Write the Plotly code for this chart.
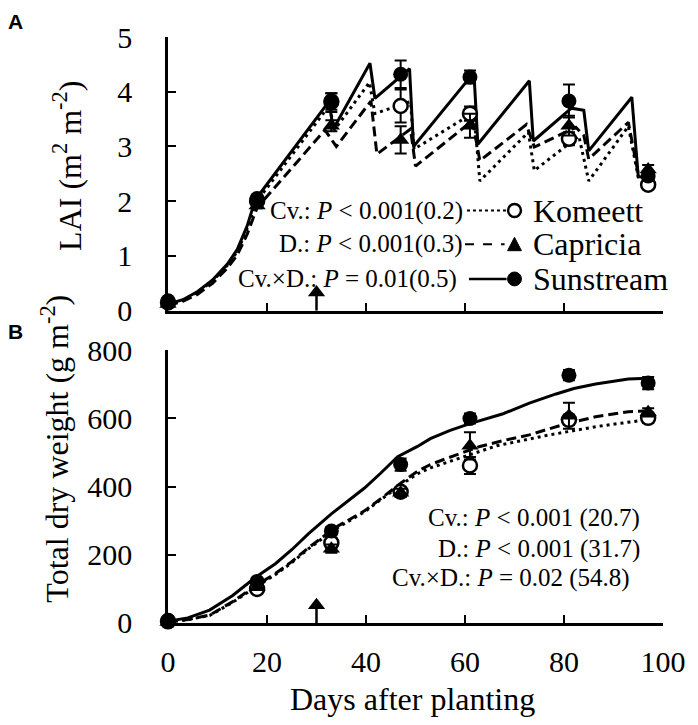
import plotly.graph_objects as go

# ---------------- data ----------------
obs_days = [0, 18, 33, 47, 61, 81, 97]

lai_komeett = [0.15, 2.0, 3.82, 3.74, 3.6, 3.14, 2.3]
lai_capricia = [0.12, 1.92, 3.38, 3.12, 3.38, 3.38, 2.58]
lai_sunstream = [0.18, 2.05, 3.8, 4.32, 4.27, 3.83, 2.46]
lai_komeett_err = [0.02, 0.05, 0.15, 0.3, 0.13, 0.12, 0.05]
lai_capricia_err = [0.02, 0.05, 0.1, 0.25, 0.22, 0.18, 0.08]
lai_sunstream_err = [0.02, 0.05, 0.17, 0.25, 0.12, 0.3, 0.08]

tdw_komeett = [5, 100, 235, 385, 462, 596, 602]
tdw_capricia = [3, 105, 218, 382, 520, 608, 618]
tdw_sunstream = [8, 122, 270, 465, 600, 727, 704]
tdw_komeett_err = [2, 8, 15, 12, 25, 15, 15]
tdw_capricia_err = [2, 8, 12, 12, 40, 38, 12]
tdw_sunstream_err = [2, 10, 12, 18, 15, 15, 18]

# simulated LAI
sim_lai_s_days = [0, 3, 6, 9, 12, 14, 16, 17.6, 32.5, 33.4, 40.8, 41.8, 48.8, 49.6, 61.8, 62.6, 73, 73.8, 81.5, 84, 85, 93.7, 95, 97]
sim_lai_s = [0.12, 0.2, 0.35, 0.56, 0.85, 1.12, 1.55, 2.02, 3.82, 3.32, 4.52, 3.88, 4.42, 3.0, 4.35, 3.04, 4.2, 3.1, 3.7, 3.66, 2.92, 3.9, 2.45, 2.42]
sim_lai_k_days = [0, 3, 6, 9, 12, 14, 16, 17.8, 32.6, 33.6, 40.7, 41.8, 49, 49.7, 61.8, 63, 72.8, 74, 83, 85, 93, 95, 97]
sim_lai_k = [0.12, 0.19, 0.34, 0.54, 0.83, 1.08, 1.5, 1.98, 3.75, 3.3, 4.17, 3.6, 3.82, 2.95, 3.62, 2.37, 3.26, 2.56, 3.19, 2.37, 3.37, 2.44, 2.35]
sim_lai_c_days = [0, 3, 6, 9, 12, 14, 16, 18, 31.7, 34, 41, 42.2, 49, 50, 61.5, 63, 72.4, 74, 82.4, 84, 85, 93, 95, 97]
sim_lai_c = [0.1, 0.17, 0.3, 0.5, 0.78, 1.02, 1.4, 1.88, 3.3, 3.0, 3.83, 2.86, 3.32, 2.64, 3.47, 2.74, 3.4, 2.99, 3.35, 3.2, 2.77, 3.44, 2.5, 2.5]

# simulated total dry weight
sim_tdw_s_days = [0, 4, 8.4, 13, 17.7, 21.7, 25, 28.4, 33, 36, 39.7, 43, 46.4, 50.4, 53, 57, 61, 67.7, 73, 78.4, 82, 86.4, 90, 93, 97]
sim_tdw_s = [5, 15, 38, 80, 134, 174, 215, 262, 320, 355, 396, 440, 488, 518, 541, 565, 585, 614, 645, 672, 688, 701, 710, 716, 718]
sim_tdw_c_days = [0, 4, 8.4, 13, 18.4, 21.7, 25, 28.4, 33.8, 39.7, 43, 47, 50.4, 53, 58, 63, 68, 73, 79.8, 86.4, 93, 97]
sim_tdw_c = [3, 10, 23, 62, 116, 145, 180, 221, 280, 329, 365, 410, 445, 465, 492, 518, 536, 552, 582, 605, 620, 622]
sim_tdw_k_days = [0, 4, 8.4, 13, 18.4, 21.7, 25, 28.4, 33.8, 39.7, 43, 47, 50.4, 53, 59.8, 66.4, 76.4, 86.4, 97]
sim_tdw_k = [3, 10, 22, 60, 112, 142, 177, 218, 276, 326, 362, 405, 438, 455, 488, 520, 550, 576, 597]

event_day = [30]
event_lai = [0.33]
event_tdw = [52]

cultivars = ["Komeett", "Capricia", "Sunstream"]
lai_stats = ["Cv.: <i>P</i> &lt; 0.001(0.2)", "D.: <i>P</i> &lt; 0.001(0.3)", "Cv.×D.: <i>P</i> = 0.01(0.5)"]
tdw_stats = ["Cv.: <i>P</i> &lt; 0.001 (20.7)", "D.: <i>P</i> &lt; 0.001 (31.7)", "Cv.×D.: <i>P</i> = 0.02 (54.8)"]

# ---------------- figure ----------------
SERIF = "Liberation Serif, Times New Roman, serif"
OFF = 8  # page body margin
W, H = 698 - OFF, 725 - 2 * OFF
ML, MR, MT, MB = 160, 30, 24, 94
PW, PH = W - ML - MR, H - MT - MB
PLOT_L = OFF + ML
PLOT_B = OFF + H - MB


def px2paper(px, py):
    return (px - PLOT_L) / PW, (PLOT_B - py) / PH


dash_styles = {"Komeett": "3px,4px", "Capricia": "10px,5px", "Sunstream": "solid"}
marker_styles = {
    "Komeett": dict(symbol="circle", size=14, color="white", line=dict(color="black", width=2.5)),
    "Capricia": dict(symbol="triangle-up", size=15, color="black", line=dict(color="black", width=0)),
    "Sunstream": dict(symbol="circle", size=15, color="black", line=dict(color="black", width=0)),
}

fig = go.Figure()

sims = [
    ("x", "y", "Komeett", sim_lai_k_days, sim_lai_k),
    ("x", "y", "Capricia", sim_lai_c_days, sim_lai_c),
    ("x", "y", "Sunstream", sim_lai_s_days, sim_lai_s),
    ("x2", "y2", "Komeett", sim_tdw_k_days, sim_tdw_k),
    ("x2", "y2", "Capricia", sim_tdw_c_days, sim_tdw_c),
    ("x2", "y2", "Sunstream", sim_tdw_s_days, sim_tdw_s),
]
for xa, ya, name, xs, ys in sims:
    fig.add_trace(go.Scatter(x=xs, y=ys, mode="lines", xaxis=xa, yaxis=ya, showlegend=False,
                             line=dict(color="black", width=3, dash=dash_styles[name])))

obs = [
    ("x", "y", "Komeett", lai_komeett, lai_komeett_err),
    ("x", "y", "Capricia", lai_capricia, lai_capricia_err),
    ("x", "y", "Sunstream", lai_sunstream, lai_sunstream_err),
    ("x2", "y2", "Komeett", tdw_komeett, tdw_komeett_err),
    ("x2", "y2", "Capricia", tdw_capricia, tdw_capricia_err),
    ("x2", "y2", "Sunstream", tdw_sunstream, tdw_sunstream_err),
]
for xa, ya, name, ys, es in obs:
    fig.add_trace(go.Scatter(x=obs_days, y=ys, mode="markers", xaxis=xa, yaxis=ya, showlegend=False,
                             marker=marker_styles[name], cliponaxis=False,
                             error_y=dict(type="data", array=es, color="black", thickness=2, width=6)))

# treatment arrows
for xa, ya, ev in [("x", "y", event_lai), ("x2", "y2", event_tdw)]:
    fig.add_trace(go.Scatter(x=event_day * 2, y=[0, ev[0]], mode="lines", xaxis=xa, yaxis=ya,
                             showlegend=False, line=dict(color="black", width=2.5)))
    fig.add_trace(go.Scatter(x=event_day, y=ev, mode="markers", xaxis=xa, yaxis=ya, showlegend=False,
                             marker=dict(symbol="triangle-up", size=15, color="black")))

annotations = []
shapes = []

# legend (top panel)
row_py = [207, 241, 276]
text_end_px = [468, 468, 462]
line_px = [(470, 510), (468, 508), (472, 510)]
mk_px = 518
for i, name in enumerate(cultivars):
    xr, yr = px2paper(text_end_px[i], row_py[i])
    annotations.append(dict(xref="paper", yref="paper", x=xr, y=yr, xanchor="right", yanchor="middle",
                            text=lai_stats[i], showarrow=False, font=dict(family=SERIF, size=25, color="black")))
    xl, yl = px2paper(535, row_py[i])
    annotations.append(dict(xref="paper", yref="paper", x=xl, y=yl, xanchor="left", yanchor="middle",
                            text=name, showarrow=False, font=dict(family=SERIF, size=32, color="black")))
    x0, y0 = px2paper(line_px[i][0], row_py[i])
    x1, _ = px2paper(line_px[i][1], row_py[i])
    dd = {"3px,4px": "dot", "10px,5px": "dash", "solid": "solid"}[dash_styles[name]]
    shapes.append(dict(type="line", xref="paper", yref="paper", x0=x0, x1=x1, y0=y0, y1=y0,
                       line=dict(color="black", width=2 if dd != "solid" else 2.5, dash=dd)))
    if name == "Capricia":
        a = px2paper(mk_px - 7, row_py[i] + 6.5)
        b = px2paper(mk_px + 7, row_py[i] + 6.5)
        c = px2paper(mk_px, row_py[i] - 7)
        shapes.append(dict(type="path", xref="paper", yref="paper",
                           path=f"M {a[0]},{a[1]} L {b[0]},{b[1]} L {c[0]},{c[1]} Z",
                           fillcolor="black", line=dict(color="black", width=1)))
    else:
        r = 6.5 if name == "Komeett" else 7
        cx0, cy0 = px2paper(mk_px - r, row_py[i] + r)
        cx1, cy1 = px2paper(mk_px + r, row_py[i] - r)
        shapes.append(dict(type="circle", xref="paper", yref="paper", x0=cx0, x1=cx1, y0=cy0, y1=cy1,
                           fillcolor="white" if name == "Komeett" else "black",
                           line=dict(color="black", width=2.5 if name == "Komeett" else 1)))

# bottom panel statistics
b_rows = [517, 548, 578]
b_end = [647, 647, 637]
for i in range(3):
    xr, yr = px2paper(b_end[i], b_rows[i])
    annotations.append(dict(xref="paper", yref="paper", x=xr, y=yr, xanchor="right", yanchor="middle",
                            text=tdw_stats[i], showarrow=False, font=dict(family=SERIF, size=25, color="black")))

# axis titles and panel letters
xt, yt = px2paper(66, 162)
annotations.append(dict(xref="paper", yref="paper", x=xt, y=yt, textangle=-90, showarrow=False,
                        xanchor="center", yanchor="middle", text="LAI (m<sup>2</sup> m<sup>-2</sup>)",
                        font=dict(family=SERIF, size=32, color="black")))
xt, yt = px2paper(54, 447)
annotations.append(dict(xref="paper", yref="paper", x=xt, y=yt, textangle=-90, showarrow=False,
                        xanchor="center", yanchor="middle", text="Total dry weight (g m<sup>-2</sup>)",
                        font=dict(family=SERIF, size=32, color="black")))
xt, yt = px2paper(415, 700)
annotations.append(dict(xref="paper", yref="paper", x=xt, y=yt, showarrow=False,
                        xanchor="center", yanchor="middle", text="Days after planting",
                        font=dict(family=SERIF, size=32, color="black")))
for letter, py in [("A", 16), ("B", 329)]:
    xt, yt = px2paper(14, py)
    annotations.append(dict(xref="paper", yref="paper", x=xt, y=yt, showarrow=False,
                            xanchor="center", yanchor="middle", text=f"<b>{letter}</b>",
                            font=dict(family="Liberation Sans, Arial, sans-serif", size=21, color="black")))

top_lo = (PLOT_B - 308) / PH
bot_hi = (PLOT_B - 348) / PH

axis_common = dict(showline=True, linecolor="black", linewidth=2.5, ticks="inside", ticklen=8,
                   tickwidth=2, tickcolor="black", showgrid=False, zeroline=False,
                   tickfont=dict(family=SERIF, size=30, color="black"))

fig.update_layout(
    width=W, height=H, margin=dict(l=ML, r=MR, t=MT, b=MB),
    paper_bgcolor="white", plot_bgcolor="white", showlegend=False,
    xaxis=dict(domain=[0, 1], range=[0, 100], dtick=20, anchor="y", showticklabels=False, **axis_common),
    yaxis=dict(domain=[top_lo, 1], range=[0, 5], dtick=1, anchor="x", ticklabelstandoff=27, **axis_common),
    xaxis2=dict(domain=[0, 1], range=[0, 100], dtick=20, anchor="y2", ticklabelstandoff=10,
                ticklabeloverflow="allow", **axis_common),
    yaxis2=dict(domain=[0, bot_hi], range=[0, 800], dtick=200, anchor="x2", ticklabelstandoff=27, **axis_common),
    annotations=annotations, shapes=shapes,
)

fig.write_html("out.html")
